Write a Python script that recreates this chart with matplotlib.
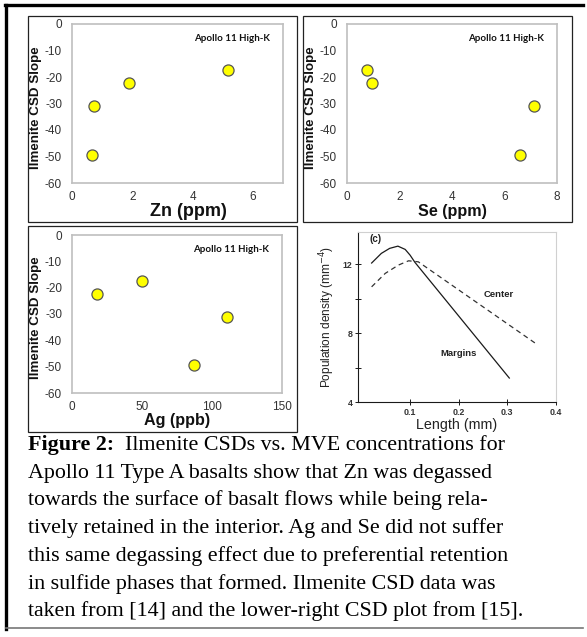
import matplotlib
matplotlib.use("Agg")
import matplotlib.pyplot as plt
from matplotlib.patches import Rectangle
from matplotlib.lines import Line2D

plt.rcParams["axes.unicode_minus"] = False

# ---------------- data ----------------
csd_slope = [-49.3, -31.0, -22.4, -17.4]
zn_ppm = [0.65, 0.73, 1.90, 5.17]
se_ppm = [6.59, 7.11, 0.94, 0.77]
ag_ppb = [87.0, 110.5, 17.6, 49.8]

zn_ticks = [0, 2, 4, 6]
se_ticks = [0, 2, 4, 6, 8]
ag_ticks = [0, 50, 100, 150]
slope_ticks = [0, -10, -20, -30, -40, -50, -60]

margins_len = [0.021, 0.041, 0.058, 0.075, 0.090, 0.100, 0.110, 0.304]
margins_den = [12.06, 12.62, 12.91, 13.04, 12.85, 12.52, 12.10, 5.39]
center_len = [0.021, 0.049, 0.076, 0.097, 0.117, 0.360]
center_den = [10.68, 11.46, 11.94, 12.19, 12.13, 7.36]

caption_lines = [
    "Apollo 11 Type A basalts show that Zn was degassed",
    "towards the surface of basalt flows while being rela-",
    "tively retained in the interior. Ag and Se did not suffer",
    "this same degassing effect due to preferential retention",
    "in sulfide phases that formed. Ilmenite CSD data was",
    "taken from [14] and the lower-right CSD plot from [15].",
]

W, H = 587, 637
fig = plt.figure(figsize=(W / 100, H / 100), dpi=100)
fig.patch.set_facecolor("white")


def fx(px):
    return px / W


def fy(py):
    return 1 - py / H


def box(x0, y0, x1, y1, **kw):
    fig.add_artist(Rectangle((fx(x0), fy(y1)), fx(x1) - fx(x0), fy(y0) - fy(y1),
                             transform=fig.transFigure, fill=False, **kw))


# outer frame
fig.add_artist(Line2D([fx(5), fx(583)], [fy(5), fy(5)], transform=fig.transFigure, color="black", lw=2.4))
fig.add_artist(Line2D([fx(6), fx(6)], [fy(5), fy(629)], transform=fig.transFigure, color="black", lw=2.4))
fig.add_artist(Line2D([fx(6), fx(583)], [fy(628), fy(628)], transform=fig.transFigure, color="#777777", lw=1.2))

# panel frames
box(28, 16, 297, 222, edgecolor="#222222", lw=0.9)
box(303, 16, 572, 222, edgecolor="#222222", lw=0.9)
box(28, 226, 297, 432, edgecolor="#222222", lw=0.9)

sans = "Liberation Sans"


def scatter_panel(rect, xs, xlim, xticks, xlabel, xlabel_x, xlabel_dy, xlabel_size):
    l, t, r, b = rect
    ax = fig.add_axes([fx(l), fy(b), fx(r) - fx(l), fy(t) - fy(b)])
    ax.scatter(xs, csd_slope, s=64, c="#FFFF00", edgecolors="#555555", linewidths=0.9, zorder=3)
    ax.set_xlim(*xlim)
    ax.set_ylim(-60, 0)
    ax.set_xticks(xticks)
    ax.set_yticks(slope_ticks)
    ax.tick_params(length=0, labelsize=8.5, colors="#333333")
    ax.tick_params(axis="y", pad=7.2)
    ax.tick_params(axis="x", pad=6)
    for lab in ax.get_xticklabels() + ax.get_yticklabels():
        lab.set_fontfamily(sans)
    for s in ax.spines.values():
        s.set_color("#BFBFBF")
        s.set_linewidth(1.2)
    fig.text(fx(xlabel_x), fy(b + xlabel_dy), xlabel, ha="center", va="center",
             fontsize=xlabel_size, fontweight="bold", family=sans, color="#111111")
    fig.text(fx(l - 36), fy((t + b) / 2 + 4), "Ilmenite CSD Slope", rotation=90,
             ha="center", va="center", fontsize=9.6, fontweight="bold", family=sans, color="#111111")
    ax.text(0.938, 0.91, "Apollo 11 High-K", transform=ax.transAxes, ha="right", va="center",
            fontsize=7.0, fontweight="bold", family="Lato", color="#111111")
    return ax


scatter_panel((72, 24, 283, 183), zn_ppm, (0, 7), zn_ticks, "Zn (ppm)", 188, 28, 13)
scatter_panel((347, 24, 557, 183), se_ppm, (0, 8), se_ticks, "Se (ppm)", 452, 28, 11.6)
scatter_panel((72, 235, 282, 393), ag_ppb, (0, 150), ag_ticks, "Ag (ppb)", 177, 28, 11.6)

# ---------------- CSD plot (lower right) ----------------
l, t, r, b = 358, 232, 556, 402
ax = fig.add_axes([fx(l), fy(b), fx(r) - fx(l), fy(t) - fy(b)])
ink = "#1a1a1a"
ax.plot(margins_len, margins_den, color=ink, lw=0.9)
ax.plot(center_len, center_den, color="#333333", lw=0.9, linestyle=(0, (4, 3)))
ax.set_xlim(-0.007, 0.4)
ax.set_ylim(4, 13.86)
ax.set_xticks([0.1, 0.2, 0.3, 0.4])
ax.set_xticklabels(["0.1", "0.2", "0.3", "0.4"])
ax.set_yticks([4, 8, 12])
ax.set_yticks([6, 10], minor=True)
ax.tick_params(which="both", direction="inout", length=4, width=0.7, colors=ink, labelsize=6.4, pad=2)
for lab in ax.get_xticklabels() + ax.get_yticklabels():
    lab.set_fontweight("bold")
    lab.set_fontfamily(sans)
    lab.set_color("#333333")
ax.spines["left"].set_color(ink)
ax.spines["bottom"].set_color(ink)
ax.spines["left"].set_linewidth(0.8)
ax.spines["bottom"].set_linewidth(0.8)
ax.spines["top"].set_color("#d0d0d0")
ax.spines["right"].set_color("#d0d0d0")
ax.spines["top"].set_linewidth(0.8)
ax.spines["right"].set_linewidth(0.8)
ax.set_xlabel("Length (mm)", fontsize=10.3, family=sans, color="#222222", labelpad=1)
ax.set_ylabel("Population density (mm$^{-4}$)", fontsize=8.6, family=sans, color="#222222", labelpad=4)
ax.text(0.283, 10.26, "Center", fontsize=6.8, fontweight="bold", family=sans, color="#222222", ha="center", va="center")
ax.text(0.20, 6.84, "Margins", fontsize=6.8, fontweight="bold", family=sans, color="#222222", ha="center", va="center")
ax.text(0.03, 13.45, "(c)", fontsize=7, fontweight="bold", family=sans, color="#222222", ha="center", va="center")

# ---------------- caption ----------------
serif = "Liberation Serif"
cap_size = 15.8
y0 = 450
dy = 27.7
fig.canvas.draw()
renderer = fig.canvas.get_renderer()
t1 = fig.text(fx(28), fy(y0), "Figure 2:", fontsize=cap_size, fontweight="bold", family=serif, va="baseline")
bb = t1.get_window_extent(renderer=renderer)
fig.text(bb.x1 / W, fy(y0), "  Ilmenite CSDs vs. MVE concentrations for", fontsize=cap_size, family=serif, va="baseline")
for i, line in enumerate(caption_lines):
    fig.text(fx(28), fy(y0 + dy * (i + 1)), line, fontsize=cap_size, family=serif, va="baseline")

fig.savefig("out.png", dpi=100)
